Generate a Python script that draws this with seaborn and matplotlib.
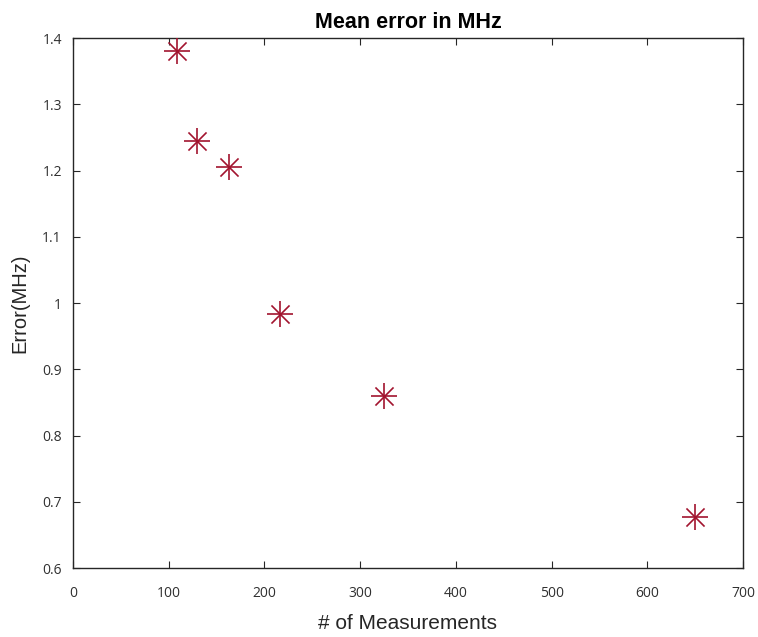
import matplotlib
matplotlib.use("Agg")
import matplotlib.pyplot as plt
import seaborn as sns
import pandas as pd

n_measurements = [108.3, 130, 162.5, 216.7, 325, 650]
error_mhz = [1.380, 1.245, 1.206, 0.984, 0.860, 0.677]
x_ticks = [0, 100, 200, 300, 400, 500, 600, 700]
y_ticks = [0.6, 0.7, 0.8, 0.9, 1.0, 1.1, 1.2, 1.3, 1.4]
y_tick_labels = ["0.6", "0.7", "0.8", "0.9", "1", "1.1", "1.2", "1.3", "1.4"]

df = pd.DataFrame({"n": n_measurements, "err": error_mhz})

sns.set_theme(style="white")
plt.rcParams['font.family'] = ['Liberation Sans', 'DejaVu Sans']

fig = plt.figure(figsize=(7.58, 6.37), dpi=100)
ax = fig.add_axes([0.0963, 0.1083, 0.8839, 0.832])

color = "#A2142F"
sns.scatterplot(data=df, x="n", y="err", marker="+", s=330, color=color,
                linewidth=1.2, ax=ax, zorder=3)
sns.scatterplot(data=df, x="n", y="err", marker="x", s=170, color=color,
                linewidth=1.2, ax=ax, zorder=3)

ax.set_xlim(0, 700)
ax.set_ylim(0.6, 1.4)
ax.set_xticks(x_ticks)
ax.set_xticklabels([str(t) for t in x_ticks])
ax.set_yticks(y_ticks)
ax.set_yticklabels(y_tick_labels)

for s in ax.spines.values():
    s.set_color("#262626")
    s.set_linewidth(1.0)
    s.set_visible(True)

ax.tick_params(direction="in", length=5, width=0.8, color="#262626",
               top=True, right=True, bottom=True, left=True,
               labelsize=10, labelcolor="#303030")
ax.tick_params(axis="x", pad=13)
ax.tick_params(axis="y", pad=8)
for lab in ax.get_xticklabels() + ax.get_yticklabels():
    lab.set_family(["Open Sans", "DejaVu Sans"])

ax.set_title("Mean error in MHz", fontsize=15.5, fontweight="bold", color="black", pad=7)
ax.set_xlabel("# of Measurements", fontsize=15, color="#262626", labelpad=9)
ax.set_ylabel("Error(MHz)", fontsize=14.5, color="#262626", labelpad=9)

fig.savefig("out.png", dpi=100)
